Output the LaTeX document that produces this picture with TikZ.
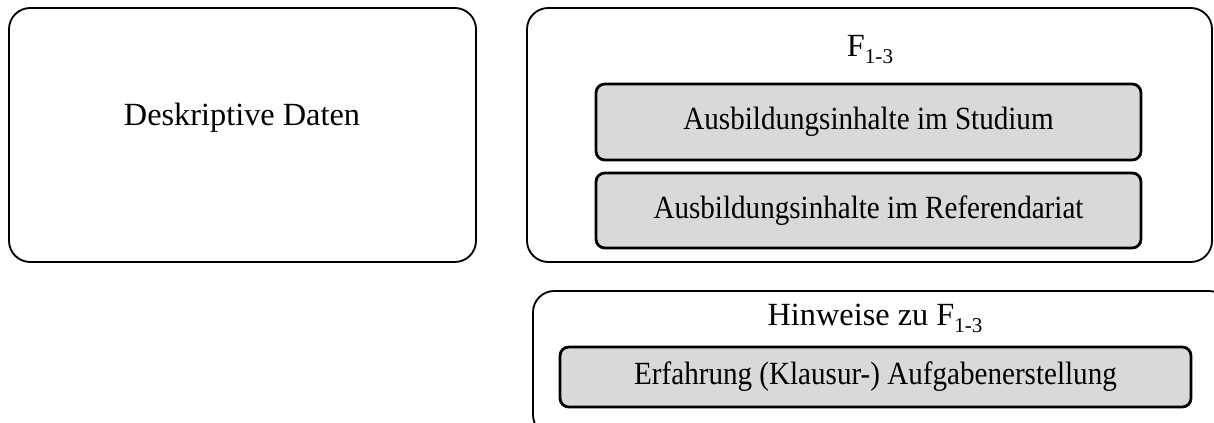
\documentclass[tikz,border=0pt]{standalone}
\usepackage{fontspec}
\setmainfont{Liberation Serif}
\newfontfamily\narrowserif[FakeStretch=0.9]{Liberation Serif}
\usetikzlibrary{positioning}
\definecolor{boxgray}{HTML}{D9D9D9}
\newcommand{\BoxFont}{\fontsize{23}{27}\selectfont}
\newcommand{\InnerFont}{\narrowserif\fontsize{23}{27}\selectfont}
\newcommand{\FSub}{F\raisebox{-0.45ex}{\fontsize{15}{17}\selectfont 1-3}}

\begin{document}
\begin{tikzpicture}[
    outerbox/.style={draw, rounded corners=0.53cm, line width=1.3pt, inner sep=0pt},
    innerbox/.style={draw, fill=boxgray, rounded corners=0.22cm, line width=2pt, inner sep=0pt, font=\InnerFont},
    heading/.style={font=\BoxFont, anchor=base, inner sep=0pt}
]
% page size and clipping
\useasboundingbox (0,0) rectangle (30.35,-10.575);
\clip (0,0) rectangle (30.35,-10.575);

% left box
\node[outerbox, minimum width=11.675cm, minimum height=6.35cm] (daten) at (6.0625,-3.375) {};
\node[heading] (datentext) at (6.05,-3.15) {Deskriptive Daten};

% right box F 1-3
\node[outerbox, minimum width=17.125cm, minimum height=6.35cm] (fbox) at (21.7375,-3.375) {};
\node[heading] (ftext) at (21.75,-1.425) {\FSub};
\node[innerbox, minimum width=13.625cm, minimum height=1.9cm] (studium) at (21.7125,-3.05)
    {Ausbildungsinhalte im Studium};
\node[innerbox, minimum width=13.625cm, minimum height=1.875cm] (referendariat) at (21.7125,-5.2625)
    {Ausbildungsinhalte im Referendariat};

% bottom box, cut by the page
\node[outerbox, minimum width=17.425cm, minimum height=3.625cm] (hinweise) at (22.0375,-9.0875) {};
\node[heading] (htext) at (21.875,-8.15) {Hinweise zu \FSub};
\node[innerbox, minimum width=15.775cm, minimum height=1.5cm] (erfahrung) at (21.8875,-9.425)
    {Erfahrung (Klausur-) Aufgabenerstellung};
\end{tikzpicture}
\end{document}
